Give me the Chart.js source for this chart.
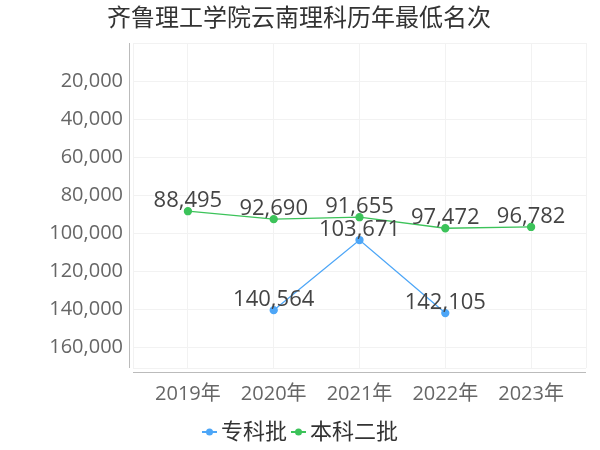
<!DOCTYPE html>
<html>
<head>
<meta charset="utf-8">
<script src="https://cdn.jsdelivr.net/npm/chart.js@4/dist/chart.umd.min.js"></script>
<style>
  html, body { margin: 0; padding: 0; background: #fff; }
  #wrap { width: 600px; height: 450px; }
</style>
</head>
<body>
<div id="wrap"><canvas id="chart" width="600" height="450"></canvas></div>
<script>
const title = '齐鲁理工学院云南理科历年最低名次';
const years = ['2019年', '2020年', '2021年', '2022年', '2023年'];
const seriesNames = ['专科批', '本科二批'];
const zhuanke = [null, 140564, 103671, 142105, null];
const benke = [88495, 92690, 91655, 97472, 96782];
const yTicks = [20000, 40000, 60000, 80000, 100000, 120000, 140000, 160000];

const colors = ['#4da6f7', '#3cc35a'];
const FONT = '"Open Sans", "Noto Sans CJK SC", sans-serif';

const toPoints = arr => arr.map((v, i) => ({ x: i, y: v }));

// axis lines, value labels, title and legend
const decorations = {
    id: 'decorations',
    afterDatasetsDraw(chart) {
        const ctx = chart.ctx;
        const area = chart.chartArea;
        ctx.save();
        ctx.strokeStyle = '#bbbbbb';
        ctx.lineWidth = 1;
        ctx.beginPath();
        ctx.moveTo(129.5, area.top);
        ctx.lineTo(129.5, area.bottom);
        ctx.moveTo(area.left, area.bottom + 4.5);
        ctx.lineTo(area.right, area.bottom + 4.5);
        ctx.stroke();

        ctx.font = '22px ' + FONT;
        ctx.fillStyle = '#444';
        ctx.textAlign = 'center';
        ctx.textBaseline = 'alphabetic';
        chart.data.datasets.forEach((ds, di) => {
            const meta = chart.getDatasetMeta(di);
            meta.data.forEach((pt, i) => {
                const v = ds.data[i].y;
                if (v == null || pt.skip) return;
                ctx.fillText(v.toLocaleString('en-US'), pt.x, pt.y - 4);
            });
        });
        ctx.restore();
    },
    afterDraw(chart) {
        const ctx = chart.ctx;
        ctx.save();
        ctx.fillStyle = '#333';
        ctx.font = '24px ' + FONT;
        ctx.textAlign = 'center';
        ctx.textBaseline = 'middle';
        ctx.fillText(title, 299, 19);

        // legend
        ctx.font = '22px ' + FONT;
        ctx.textAlign = 'left';
        let x = 202;
        const y = 432;
        seriesNames.forEach((name, i) => {
            ctx.strokeStyle = colors[i];
            ctx.fillStyle = colors[i];
            ctx.lineWidth = 2;
            ctx.beginPath();
            ctx.moveTo(x, y);
            ctx.lineTo(x + 15, y);
            ctx.stroke();
            ctx.beginPath();
            ctx.arc(x + 7.5, y, 3.5, 0, Math.PI * 2);
            ctx.fill();
            ctx.fillStyle = '#333';
            ctx.fillText(name, x + 19, y + 1);
            x += 19 + ctx.measureText(name).width + 4;
        });
        ctx.restore();
    }
};

new Chart(document.getElementById('chart'), {
    type: 'line',
    data: {
        datasets: [
            {
                label: seriesNames[0],
                data: toPoints(zhuanke),
                borderColor: colors[0],
                backgroundColor: colors[0],
                borderWidth: 1.3,
                pointRadius: 3.5,
                pointHoverRadius: 3.5,
                spanGaps: false
            },
            {
                label: seriesNames[1],
                data: toPoints(benke),
                borderColor: colors[1],
                backgroundColor: colors[1],
                borderWidth: 1.3,
                pointRadius: 3.5,
                pointHoverRadius: 3.5
            }
        ]
    },
    options: {
        responsive: false,
        animation: false,
        layout: { padding: { top: 43, left: 0, right: 11, bottom: 42 } },
        plugins: {
            legend: { display: false },
            title: { display: false },
            tooltip: { enabled: false }
        },
        scales: {
            x: {
                type: 'linear',
                min: -0.64,
                max: 4.64,
                afterBuildTicks: scale => {
                    scale.ticks = [-0.64, 0, 1, 2, 3, 4, 4.64].map(v => ({ value: v }));
                },
                afterFit: scale => { scale.height = 40; },
                border: { display: false },
                grid: { color: '#f2f2f2', drawTicks: false },
                ticks: {
                    autoSkip: false,
                    maxRotation: 0,
                    padding: 14,
                    color: '#666',
                    font: { family: FONT, size: 20 },
                    callback: v => years[v] || ''
                }
            },
            y: {
                reverse: true,
                min: 0,
                max: 171000,
                afterBuildTicks: scale => {
                    scale.ticks = [0].concat(yTicks, [171000]).map(v => ({ value: v }));
                },
                afterFit: scale => { scale.width = 133; },
                border: { display: false },
                grid: { color: '#f2f2f2', drawTicks: false },
                ticks: {
                    padding: 10,
                    color: '#666',
                    font: { family: FONT, size: 20 },
                    callback: v => yTicks.includes(v) ? v.toLocaleString('en-US') : ''
                }
            }
        }
    },
    plugins: [decorations]
});
</script>
</body>
</html>
